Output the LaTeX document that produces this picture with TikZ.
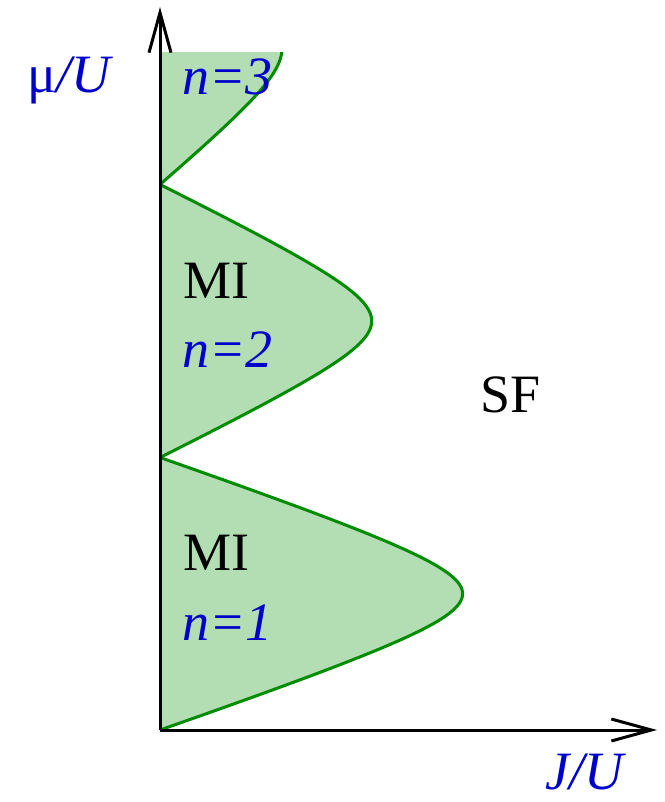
\documentclass[tikz,border=0pt]{standalone}
\usepackage{fontspec}
\setmainfont{Liberation Serif}
\usetikzlibrary{arrows.meta}
\definecolor{lobefill}{RGB}{179,222,179}
\definecolor{lobeline}{RGB}{0,140,0}
\definecolor{labblue}{RGB}{0,0,205}
\tikzset{
  lobefillstyle/.style={fill=lobefill, draw=none},
  lobelinestyle/.style={draw=lobeline, line width=3pt},
  axisstyle/.style={draw=black, line width=3pt, -{Straight Barb[length=40pt,width=22pt,line width=3pt]}},
  lab/.style={anchor=base west, inner sep=0pt, font=\fontsize{54}{60}\selectfont},
  bluelab/.style={lab, text=labblue},
}
\begin{document}
\begin{tikzpicture}[x=1pt,y=-1pt]
\useasboundingbox (0,0) rectangle (664,802);
% lobe 1
\fill[lobefillstyle] plot[domain=-1:1,samples=121,variable=\s]
  ({160+302.6*(1.4-sqrt(0.16+1.8*\s*\s))},{593.75+136.25*\s}) -- cycle;
\draw[lobelinestyle] plot[domain=-1:1,samples=121,variable=\s]
  ({160+302.6*(1.4-sqrt(0.16+1.8*\s*\s))},{593.75+136.25*\s});
% lobe 2
\fill[lobefillstyle] plot[domain=-1:1,samples=121,variable=\s]
  ({160+211.7*(1.4-sqrt(0.16+1.8*\s*\s))},{321+136.5*\s}) -- cycle;
\draw[lobelinestyle] plot[domain=-1:1,samples=121,variable=\s]
  ({160+211.7*(1.4-sqrt(0.16+1.8*\s*\s))},{321+136.5*\s});
% lobe 3 (clipped at top)
\fill[lobefillstyle] (160,51.7) -- plot[domain=0.027:1,samples=101,variable=\s]
  ({160+122*(1.4-sqrt(0.16+1.8*\s*\s))},{48+136.5*\s}) -- cycle;
\draw[lobelinestyle] plot[domain=-0.06:1,samples=101,variable=\s]
  ({160+122*(1.4-sqrt(0.16+1.8*\s*\s))},{48+136.5*\s});
\fill[white] (158,0) rectangle (400,51.7);
% axes
\coordinate (o) at (160,730);
\coordinate (ytip) at (160,7);
\coordinate (xtip) at (657,730);
\draw[axisstyle] (o) -- (ytip);
\draw[axisstyle] (o) -- (xtip);
% labels
\node[bluelab] (mu) at (27,93) {μ\textit{/U}};
\node[bluelab] (n3) at (182,95) {\textit{n=3}};
\node[lab] (mi2) at (183,298) {MI};
\node[bluelab] (n2) at (182,367) {\textit{n=2}};
\node[lab] (mi1) at (183,570) {MI};
\node[bluelab] (n1) at (182,640) {\textit{n=1}};
\node[lab] (sf) at (480,412) {SF};
\node[bluelab] (ju) at (545,789) {\textit{J/U}};
\end{tikzpicture}
\end{document}
